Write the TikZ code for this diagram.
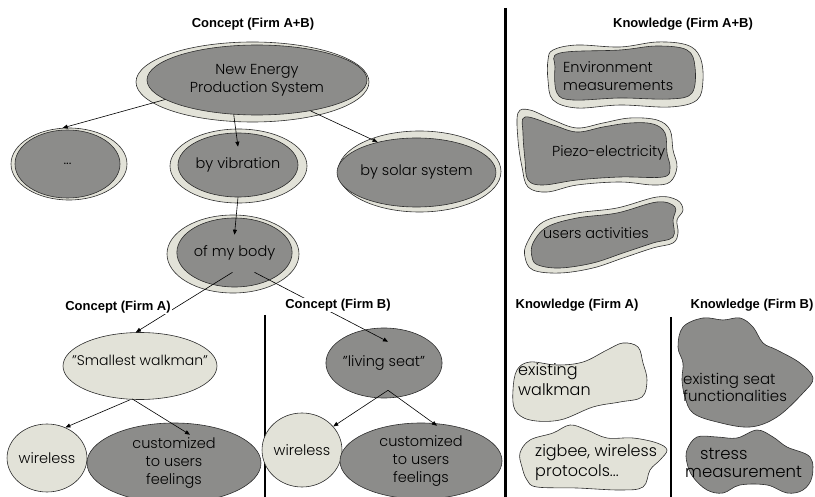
\documentclass[tikz,border=0pt]{standalone}
\usepackage{fontspec}
\setmainfont{Poppins}[UprightFont=* Light]
\newfontfamily\titlefont{Liberation Sans}
\usetikzlibrary{shapes.geometric,arrows.meta}
\definecolor{darkfill}{RGB}{140,140,138}
\definecolor{lightfill}{RGB}{226,226,216}
\definecolor{edge}{RGB}{45,45,45}
\newcommand{\bodyf}{\fontsize{14.5}{18}\selectfont}
\newcommand{\bigf}{\fontsize{16}{20}\selectfont}
\begin{document}
\begin{tikzpicture}[x=1pt,y=-1pt,
  outerell/.style={ellipse,draw=edge,fill=lightfill,line width=0.6pt,inner sep=0pt},
  darkell/.style={ellipse,draw=edge,fill=darkfill,line width=0.6pt,inner sep=0pt,align=center,font=\bodyf},
  lightell/.style={ellipse,draw=edge,fill=lightfill,line width=0.6pt,inner sep=0pt,align=center,font=\bodyf},
  ttl/.style={font=\titlefont\bfseries\fontsize{13}{15}\selectfont,fill=white,inner sep=1pt},
  blobtxt/.style={anchor=west,align=left,inner sep=0pt,font=\bodyf},
  blobtxtb/.style={anchor=west,align=left,inner sep=0pt,font=\bigf},
  darkblob/.style={draw=edge,fill=darkfill,line width=0.6pt},
  lightblob/.style={draw=edge,fill=lightfill,line width=0.6pt},
  arr/.style={-{Triangle[length=5pt,width=4pt]},line width=0.6pt,draw=black},
  divider/.style={line width=3pt,draw=black}]
\useasboundingbox (0,0) rectangle (815,497);

% dividers
\draw[divider] (505,8) -- (505,497);
\draw[divider,line width=2.5pt] (265,315) -- (265,497);
\draw[divider,line width=2.5pt] (671,317) -- (671,497);

% titles
\node[ttl] (tcab) at (253,24) {Concept (Firm A+B)};
\node[ttl] (tkab) at (683,24) {Knowledge (Firm A+B)};

% concept tree A+B
\node[outerell,minimum width=233,minimum height=80] (nepo) at (252.5,82) {};
\node[darkell,minimum width=220,minimum height=70] (nep) at (257,80) {New Energy\\Production System};

\node[outerell,minimum width=116,minimum height=72] (dotso) at (69,164) {};
\node[darkell,minimum width=105,minimum height=68] (dots) at (67.5,164) {...};

\node[outerell,minimum width=137,minimum height=74] (vibo) at (238.5,166) {};
\node[darkell,minimum width=120,minimum height=64] (vib) at (238,165) {by vibration};

\node[outerell,minimum width=163,minimum height=81] (solaro) at (419.5,171.5) {};
\node[darkell,minimum width=143,minimum height=69] (solar) at (416.5,172.5) {by solar system};

\node[outerell,minimum width=132,minimum height=78] (bodyo) at (233,254) {};
\node[darkell,minimum width=115,minimum height=69] (body) at (234.5,252.5) {of my body};

\draw[arr] (nep.192) -- (dotso.100);
\draw[arr] (nep.236) -- ([yshift=-14pt]vib.north);
\draw[arr] (nep.330) -- (solar.142);
\draw[arr] (vib.south) -- ([yshift=-17pt]body.north);

% concept A / B
\node[lightell,minimum width=154,minimum height=67] (walk) at (140,366) {};
\node[font=\fontsize{14}{16}\selectfont,inner sep=0pt] (walkt) at (140,360) {"Smallest walkman"};
\node[darkell,minimum width=112,minimum height=70] (seat) at (384,363) {"living seat"};

\draw[arr] ([xshift=-2pt,yshift=15pt]body.south) -- (walk.97);
\draw[arr] ([xshift=20pt,yshift=15pt]body.south) -- ([xshift=4pt,yshift=-14pt]seat.north);

\node[ttl] (tca) at (118,307) {Concept (Firm A)};
\node[ttl] (tcb) at (338,305) {Concept (Firm B)};

\node[lightell,minimum width=68,minimum height=68] (wa) at (47,458) {wireless};
\node[darkell,minimum width=174,minimum height=80] (ca) at (174,463) {customized\\to users\\feelings};
\node[lightell,minimum width=68,minimum height=74] (wb) at (302,450) {wireless};
\node[darkell,minimum width=162,minimum height=76] (cb) at (421,461) {customized\\to users\\feelings};

\draw[arr] ([xshift=-10pt]walk.south) -- (wa.59);
\draw[arr] ([xshift=-8pt,yshift=1pt]walk.south) -- ([xshift=16pt,yshift=-12pt]ca.north);
\draw[arr] ([xshift=4pt,yshift=8pt]seat.south) -- (wb.37);
\draw[arr] ([xshift=4pt,yshift=8pt]seat.south) -- ([xshift=16pt,yshift=-3pt]cb.north);

% knowledge A+B blobs
\draw[lightblob] plot[smooth cycle,tension=0.6] coordinates {(553,50) (577,45) (620,47) (657,42) (687,45) (700,57) (703,80) (697,100) (670,107) (620,105) (577,108) (553,100) (548,80) (548,60)};
\draw[darkblob] plot[smooth cycle,tension=0.6] coordinates {(560,53) (620,50) (657,46) (687,50) (695,67) (692,93) (670,99) (620,98) (573,100) (557,93) (555,67)};
\node[blobtxt] (envt) at (563,76) {Environment\\measurements};

\draw[lightblob] plot[smooth cycle,tension=0.6] coordinates {(518,113) (530,110) (553,120) (577,128) (603,123) (630,118) (657,120) (670,130) (673,150) (677,167) (670,182) (653,185) (620,182) (577,185) (547,192) (528,187) (522,167) (518,140)};
\draw[darkblob] plot[smooth cycle,tension=0.6] coordinates {(525,117) (553,125) (577,132) (603,127) (630,123) (653,124) (665,133) (667,153) (670,168) (663,177) (620,177) (577,180) (543,185) (528,180) (525,160) (523,133)};
\node[blobtxt] (piezt) at (552,153) {Piezo-electricity};

\draw[lightblob] plot[smooth cycle,tension=0.6] coordinates {(527,243) (543,222) (577,213) (617,208) (657,197) (677,200) (683,210) (677,220) (678,233) (673,243) (653,248) (623,258) (593,268) (560,273) (533,270) (525,257)};
\draw[darkblob] plot[smooth cycle,tension=0.6] coordinates {(533,243) (547,227) (577,218) (617,213) (657,202) (675,207) (673,220) (673,237) (653,243) (623,253) (593,263) (560,268) (538,265) (532,257)};
\node[blobtxt] (usert) at (543,233) {users activities};

% knowledge A / B
\node[ttl] (tka) at (577,305) {Knowledge (Firm A)};
\node[ttl] (tkb) at (752,305) {Knowledge (Firm B)};

\draw[lightblob] plot[smooth cycle,tension=0.6] coordinates {(517,370) (530,362) (557,365) (583,362) (607,350) (623,343) (638,347) (643,363) (647,380) (642,397) (620,402) (593,407) (560,420) (530,420) (515,410) (513,390)};
\node[blobtxtb] (exwt) at (518,380) {existing\\walkman};

\draw[lightblob] plot[smooth cycle,tension=0.6] coordinates {(520,453) (530,440) (553,433) (570,425) (587,430) (607,438) (633,438) (657,443) (667,450) (660,460) (650,470) (643,487) (620,490) (577,488) (537,487) (527,480) (522,467)};
\node[blobtxtb] (zigt) at (535,463) {zigbee, wireless\\protocols...};

\draw[darkblob] plot[smooth cycle,tension=0.6] coordinates {(683,363) (678,347) (683,327) (703,318) (723,320) (740,318) (753,327) (763,343) (777,350) (800,363) (813,378) (803,393) (777,417) (750,427) (717,422) (693,413) (685,397) (682,380)};
\node[blobtxtb,font=\fontsize{15}{17}\selectfont] (seatt) at (683,387) {existing seat\\functionalities};

\draw[darkblob] plot[smooth cycle,tension=0.6] coordinates {(687,450) (697,437) (717,437) (737,438) (757,430) (773,437) (787,447) (810,457) (812,477) (803,490) (787,493) (767,485) (740,485) (723,493) (707,490) (693,477) (687,463)};
\node[blobtxtb,font=\fontsize{16.5}{18}\selectfont] (stresst) at (685,463) {\hspace*{15pt}stress\\measurement};
\end{tikzpicture}
\end{document}
